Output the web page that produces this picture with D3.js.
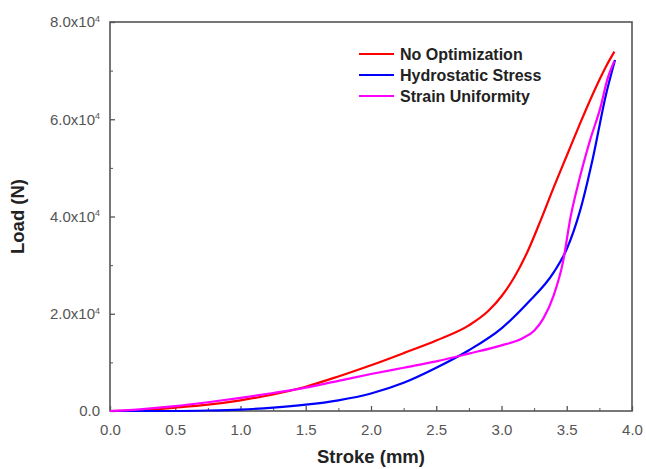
<!DOCTYPE html>
<html>
<head>
<meta charset="utf-8">
<script src="https://cdn.jsdelivr.net/npm/d3@7"></script>
<style>
  body { margin: 0; background: #fff; }
  text { font-family: "Liberation Sans", Arial, sans-serif; }
</style>
</head>
<body>
<div id="chart"></div>
<script>
const MARGIN = {TOP: 22, BOTTOM: 58, LEFT: 110, RIGHT: 14};
const W = 646, H = 469;
const WIDTH = W - MARGIN.LEFT - MARGIN.RIGHT;
const HEIGHT = H - MARGIN.TOP - MARGIN.BOTTOM;

// stroke (mm) / load (x10^4 N)
const noOptX = [0, 0.25, 0.5, 0.75, 1.0, 1.25, 1.5, 1.75, 2.0, 2.25, 2.5, 2.75, 2.9, 3.0, 3.1, 3.2, 3.3, 3.4, 3.5, 3.6, 3.7, 3.8, 3.865];
const noOptY = [0, 0.02, 0.07, 0.13, 0.22, 0.34, 0.50, 0.71, 0.94, 1.19, 1.45, 1.76, 2.06, 2.36, 2.76, 3.28, 3.92, 4.60, 5.25, 5.90, 6.52, 7.08, 7.39];

const hydroX = [0, 0.5, 0.75, 1.0, 1.25, 1.5, 1.75, 2.0, 2.25, 2.5, 2.75, 3.0, 3.2, 3.4, 3.5, 3.6, 3.7, 3.8, 3.87];
const hydroY = [0, 0.0, 0.01, 0.03, 0.07, 0.13, 0.22, 0.36, 0.58, 0.89, 1.25, 1.70, 2.22, 2.85, 3.33, 4.10, 5.20, 6.50, 7.22];

const strainX = [0, 0.25, 0.5, 0.75, 1.0, 1.25, 1.5, 1.75, 2.0, 2.25, 2.5, 2.75, 3.0, 3.15, 3.25, 3.32, 3.4, 3.47, 3.53, 3.6, 3.68, 3.76, 3.81, 3.865];
const strainY = [0, 0.04, 0.10, 0.18, 0.27, 0.37, 0.48, 0.62, 0.76, 0.89, 1.02, 1.18, 1.35, 1.48, 1.65, 1.90, 2.38, 3.05, 4.0, 4.8, 5.58, 6.26, 6.81, 7.20];

const seriesNames = ['No Optimization', 'Hydrostatic Stress', 'Strain Uniformity'];
const seriesColors = ['#ff0000', '#0000ff', '#ff00ff'];

const xTicks = [0, 0.5, 1.0, 1.5, 2.0, 2.5, 3.0, 3.5, 4.0];
const yTicks = [0, 2, 4, 6, 8];

const series = [
  {name: seriesNames[0], color: seriesColors[0], xs: noOptX, ys: noOptY},
  {name: seriesNames[1], color: seriesColors[1], xs: hydroX, ys: hydroY},
  {name: seriesNames[2], color: seriesColors[2], xs: strainX, ys: strainY}
];

const svg = d3.select('#chart')
  .append('svg')
    .attr('width', W)
    .attr('height', H);

const g = svg.append('g')
  .attr('transform', `translate(${MARGIN.LEFT}, ${MARGIN.TOP})`);

const x = d3.scaleLinear().domain([0, 4]).range([0, WIDTH]);
const y = d3.scaleLinear().domain([0, 8]).range([HEIGHT, 0]);

// minor ticks
g.append('g')
  .attr('transform', `translate(0, ${HEIGHT})`)
  .call(d3.axisBottom(x).tickValues(d3.range(0.25, 4, 0.5)).tickSize(-3).tickFormat(''))
  .call(a => a.select('.domain').remove())
  .call(a => a.selectAll('line').attr('stroke', '#555'));

g.append('g')
  .call(d3.axisLeft(y).tickValues(d3.range(1, 8, 2)).tickSize(-3).tickFormat(''))
  .call(a => a.select('.domain').remove())
  .call(a => a.selectAll('line').attr('stroke', '#555'));

// major ticks
const xAxis = g.append('g')
  .attr('transform', `translate(0, ${HEIGHT})`)
  .call(d3.axisBottom(x).tickValues(xTicks).tickSize(-5).tickPadding(13).tickFormat(d3.format('.1f')));
xAxis.select('.domain').remove();
xAxis.selectAll('line').attr('stroke', '#555').attr('stroke-width', 1.3);
xAxis.selectAll('text')
  .attr('font-size', '15px')
  .attr('fill', '#555');

const yAxis = g.append('g')
  .call(d3.axisLeft(y).tickValues(yTicks).tickSize(-5).tickPadding(10).tickFormat(''));
yAxis.select('.domain').remove();
yAxis.selectAll('line').attr('stroke', '#555').attr('stroke-width', 1.3);
yAxis.selectAll('.tick text')
  .attr('font-size', '15px')
  .attr('fill', '#555')
  .attr('dy', '0.32em')
  .each(function(d) {
    const t = d3.select(this);
    if (d === 0) {
      t.text('0.0');
    } else {
      t.append('tspan').text(d3.format('.1f')(d) + 'x10');
      t.append('tspan').attr('font-size', '9px').attr('dy', '-0.6em').text('4');
    }
  });

// frame
g.append('rect')
  .attr('width', WIDTH)
  .attr('height', HEIGHT)
  .attr('fill', 'none')
  .attr('stroke', '#555')
  .attr('stroke-width', 1.6);

// curves
const line = d3.line()
  .x(d => x(d[0]))
  .y(d => y(d[1]))
  .curve(d3.curveMonotoneX);

g.selectAll('.curve')
  .data(series)
  .enter().append('path')
    .attr('class', 'curve')
    .attr('fill', 'none')
    .attr('stroke', d => d.color)
    .attr('stroke-width', 2.2)
    .attr('d', d => line(d.xs.map((v, i) => [v, d.ys[i]])));

// legend
const legend = g.append('g')
  .attr('transform', `translate(${359 - MARGIN.LEFT}, ${54 - MARGIN.TOP})`);

const items = legend.selectAll('.item')
  .data(series)
  .enter().append('g')
    .attr('class', 'item')
    .attr('transform', (d, i) => `translate(0, ${i * 21})`);

items.append('line')
  .attr('x1', 0).attr('x2', 35)
  .attr('stroke', d => d.color)
  .attr('stroke-width', 2.2);

items.append('text')
  .attr('x', 41)
  .attr('dy', '0.35em')
  .attr('font-size', '16px')
  .attr('font-weight', 'bold')
  .attr('fill', '#222')
  .text(d => d.name);

// axis titles
svg.append('text')
  .attr('x', MARGIN.LEFT + WIDTH / 2)
  .attr('y', 463)
  .attr('text-anchor', 'middle')
  .attr('font-size', '18.5px')
  .attr('font-weight', 'bold')
  .attr('fill', '#222')
  .text('Stroke (mm)');

svg.append('text')
  .attr('transform', `translate(24, ${MARGIN.TOP + HEIGHT / 2}) rotate(-90)`)
  .attr('text-anchor', 'middle')
  .attr('font-size', '18.5px')
  .attr('font-weight', 'bold')
  .attr('fill', '#222')
  .text('Load (N)');
</script>
</body>
</html>
